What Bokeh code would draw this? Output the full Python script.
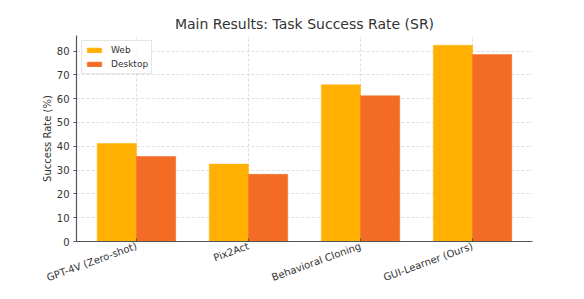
import math
import numpy as np
from bokeh.plotting import figure
from bokeh.models import Range1d, FixedTicker, ColumnDataSource, Legend, LegendItem
from bokeh.embed import file_html
from bokeh.resources import INLINE

# ---- data ----
categories = ["GPT-4V (Zero-shot)", "Pix2Act", "Behavioral Cloning", "GUI-Learner (Ours)"]
web_sr = [41.2, 32.5, 65.8, 82.4]
desktop_sr = [35.7, 28.2, 61.2, 78.5]
series_names = ["Web", "Desktop"]
y_ticks = [0, 10, 20, 30, 40, 50, 60, 70, 80]

WEB_COLOR = "#FFB000"
DESK_COLOR = "#F36B24"
FONT = "DejaVu Sans"
bar_w = 0.35

idx = np.arange(len(categories))
src = ColumnDataSource(dict(
    x_web=idx - bar_w / 2,
    x_desk=idx + bar_w / 2,
    web=web_sr,
    desk=desktop_sr,
))

ymax = max(max(web_sr), max(desktop_sr)) * 1.05
p = figure(width=576, height=291, output_backend="svg", toolbar_location=None,
           x_range=Range1d(-0.535, len(categories) - 1 + 0.535),
           y_range=Range1d(0, ymax),
           min_border_left=76, min_border_right=44, min_border_top=35, min_border_bottom=44,
           title="Main Results: Task Success Rate (SR)")

p.title.text_font = FONT
p.title.text_font_size = "14px"
p.title.text_font_style = "normal"
p.title.text_color = "#333333"
p.title.align = "center"
p.title.standoff = 7

r_web = p.vbar(x="x_web", top="web", width=bar_w, bottom=0, source=src,
               fill_color=WEB_COLOR, line_color=WEB_COLOR, line_width=0.5)
r_desk = p.vbar(x="x_desk", top="desk", width=bar_w, bottom=0, source=src,
                fill_color=DESK_COLOR, line_color=DESK_COLOR, line_width=0.5)

p.outline_line_color = None
p.background_fill_color = "white"

# axes
xa = p.xaxis[0]
xa.ticker = FixedTicker(ticks=list(idx))
xa.major_label_overrides = {int(i): c for i, c in zip(idx, categories)}
xa.major_label_orientation = math.radians(20)
xa.minor_tick_line_color = None
xa.major_tick_in = 3
xa.major_tick_out = 0
xa.major_label_standoff = 4

ya = p.yaxis[0]
ya.ticker = FixedTicker(ticks=y_ticks)
ya.minor_tick_line_color = None
ya.major_tick_in = 0
ya.major_tick_out = 3
ya.major_label_standoff = 4
ya.axis_label = "Success Rate (%)"
ya.axis_label_standoff = 1
ya.axis_label_text_font = FONT
ya.axis_label_text_font_size = "10px"
ya.axis_label_text_font_style = "normal"
ya.axis_label_text_color = "#333333"

for ax in (xa, ya):
    ax.axis_line_color = "#555555"
    ax.axis_line_width = 1.2
    ax.major_tick_line_color = "#555555"
    ax.major_label_text_font = FONT
    ax.major_label_text_font_size = "10px"
    ax.major_label_text_color = "#333333"

# grid
for g in (p.xgrid[0], p.ygrid[0]):
    g.grid_line_color = "#cccccc"
    g.grid_line_dash = "3 2"
    g.grid_line_width = 0.8
    g.grid_line_alpha = 0.8

legend = Legend(items=[LegendItem(label=series_names[0], renderers=[r_web]),
                       LegendItem(label=series_names[1], renderers=[r_desk])],
                location="top_left")
legend.margin = 5
legend.padding = 3
legend.spacing = 2
legend.glyph_width = 18
legend.glyph_height = 6
legend.label_height = 12
legend.label_standoff = 8
legend.label_text_font = FONT
legend.label_text_font_size = "9px"
legend.label_text_color = "#333333"
legend.border_line_color = "#cccccc"
legend.border_line_width = 1
legend.background_fill_alpha = 0.8
p.add_layout(legend, "center")

open("out.html", "w").write(file_html(p, INLINE))
